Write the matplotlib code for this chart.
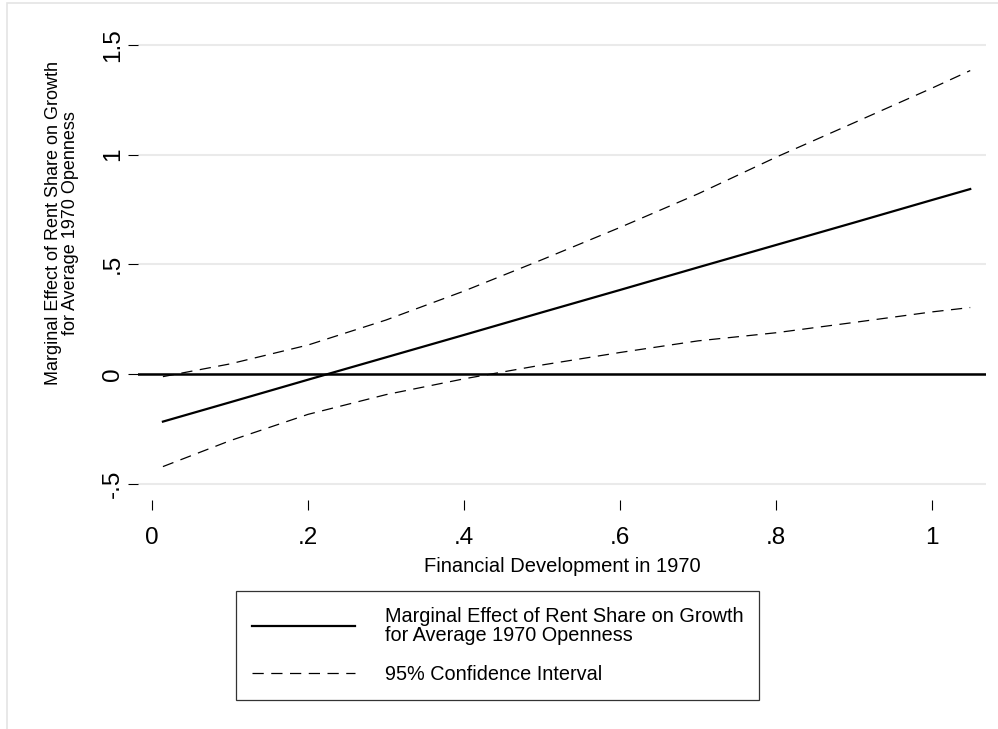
# Efecto marginal de la participacion de rentas sobre el crecimiento
import matplotlib
matplotlib.use("Agg")
import matplotlib.pyplot as plt
from matplotlib.patches import Rectangle

plt.rcParams['font.family'] = ['Liberation Sans', 'DejaVu Sans']

# Datos
fin_dev = [0.014, 0.1, 0.2, 0.3, 0.4, 0.5, 0.6, 0.7, 0.8, 0.9, 1.0, 1.049]
efecto = [-0.217, -0.129, -0.026, 0.076, 0.178, 0.281, 0.383, 0.486, 0.588, 0.690, 0.793, 0.843]
ic_sup = [-0.012, 0.046, 0.132, 0.246, 0.378, 0.521, 0.668, 0.821, 0.988, 1.145, 1.303, 1.383]
ic_inf = [-0.422, -0.304, -0.184, -0.094, -0.022, 0.041, 0.098, 0.151, 0.188, 0.235, 0.283, 0.303]

xticks = [0, 0.2, 0.4, 0.6, 0.8, 1.0]
xtick_labels = ['0', '.2', '.4', '.6', '.8', '1']
yticks = [-0.5, 0, 0.5, 1.0, 1.5]
ytick_labels = ['-.5', '0', '.5', '1', '1.5']

W, H = 998, 729
fig = plt.figure(figsize=(W / 100, H / 100), dpi=100)

# Area del grafico en pixeles
left, right, top, bottom = 138, 986, 30, 500
ax = fig.add_axes([left / W, (H - bottom) / H, (right - left) / W, (bottom - top) / H])

# Escalas: 0 en x=152px, 1 en x=932px; 0 en y=374px, 219.4 px por unidad
ax.set_xlim((left - 152) / 780, (right - 152) / 780)
ax.set_ylim((374 - bottom) / 219.4, (374 - top) / 219.4)

for s in ax.spines.values():
    s.set_visible(False)

# Lineas de rejilla
ax.set_yticks(yticks)
ax.set_yticklabels(ytick_labels, rotation=90, va='center', fontsize=17.5)
ax.set_xticks(xticks)
ax.set_xticklabels(xtick_labels, fontsize=17.5)
ax.yaxis.grid(True, color='#eaeaea', linewidth=1.5)
ax.set_axisbelow(True)
ax.tick_params(axis='both', length=7.5, width=0.8, color='black')
ax.tick_params(axis='x', pad=12)
ax.tick_params(axis='y', pad=2.5)

ax.axhline(0, color='black', linewidth=1.8, zorder=2)

ax.plot(fin_dev, efecto, color='black', linewidth=1.6, zorder=3,
        label='Marginal Effect of Rent Share on Growth\nfor Average 1970 Openness')
ax.plot(fin_dev, ic_sup, color='black', linewidth=0.9, dashes=(9, 6), zorder=3,
        label='95% Confidence Interval')
ax.plot(fin_dev, ic_inf, color='black', linewidth=0.9, dashes=(9, 6), zorder=3)

ax.set_xlabel('Financial Development in 1970', fontsize=14.5, labelpad=6)
ax.set_ylabel('Marginal Effect of Rent Share on Growth\nfor Average 1970 Openness',
              fontsize=13, linespacing=1.0)
ax.yaxis.set_label_coords((79 - left) / (right - left), (bottom - 223) / (bottom - top))

leg = fig.legend(loc='upper left', bbox_to_anchor=(236 / W, (H - 591) / H),
                 fontsize=14.3, frameon=True, fancybox=False, edgecolor='black',
                 handlelength=5.2, handletextpad=1.5, borderpad=0.8,
                 labelspacing=1.0, borderaxespad=0)
leg.get_frame().set_linewidth(0.9)
for t in leg.get_texts():
    t.set_linespacing(1.0)

# Borde gris del area exterior
fig.patches.append(Rectangle((7 / W, -0.1), 2, (H - 3) / H + 0.1, transform=fig.transFigure,
                             fill=False, edgecolor='#e4e4e4', linewidth=1.2))

fig.savefig('out.png', dpi=100)
